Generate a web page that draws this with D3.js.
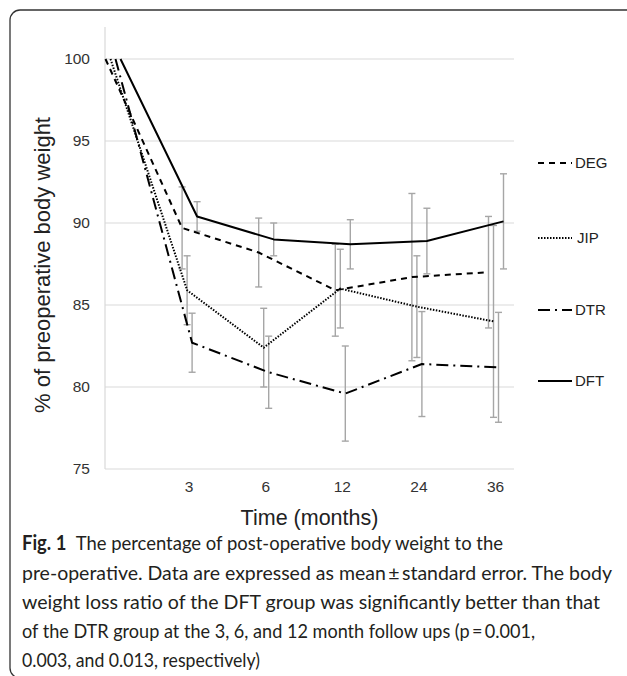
<!DOCTYPE html>
<html>
<head>
<meta charset="utf-8">
<script src="https://cdn.jsdelivr.net/npm/d3@7/dist/d3.min.js"></script>
<style>
  html, body { margin: 0; padding: 0; background: #fff; }
  svg { display: block; }
</style>
</head>
<body>
<svg id="chart" width="627" height="676"></svg>
<script>
// ---- data ----
const categories = ["0", "3", "6", "12", "24", "36"];
const tickLabels = ["", "3", "6", "12", "24", "36"];
const yTicks = [75, 80, 85, 90, 95, 100];
const seriesNames = ["DEG", "JIP", "DTR", "DFT"];
const degValues = [100, 89.7, 88.2, 85.9, 86.7, 87.0];
const degErrors = [null, 2.5, 2.1, 2.8, 5.1, 3.4];
const jipValues = [100, 85.9, 82.4, 86.0, 84.9, 84.0];
const jipErrors = [null, 2.1, 2.4, 2.4, 3.1, 5.85];
const dtrValues = [100, 82.7, 80.9, 79.6, 81.4, 81.2];
const dtrErrors = [null, 1.8, 2.2, 2.9, 3.2, 3.35];
const dftValues = [100, 90.4, 89.0, 88.7, 88.9, 90.1];
const dftErrors = [null, 0.9, 1.0, 1.5, 2.0, 2.9];
const captionLines = [
  ["Fig. 1", "\u2002The percentage of post-operative body weight to the"],
  ["", "pre-operative. Data are expressed as mean\u2009\u00B1\u2009standard error. The body"],
  ["", "weight loss ratio of the DFT group was significantly better than that"],
  ["", "of the DTR group at the 3, 6, and 12 month follow ups (p\u2009=\u20090.001,"],
  ["", "0.003, and 0.013, respectively)"]
];

// ---- styles ----
const seriesStyle = {
  DEG: { dash: "6,5", offset: -7.5 },
  JIP: { dash: "1.5,1.5", offset: -2.5 },
  DTR: { dash: "12,5,2,5", offset: 2.5 },
  DFT: { dash: null, offset: 7.5 }
};
const series = [
  { name: "DEG", values: degValues, errors: degErrors },
  { name: "JIP", values: jipValues, errors: jipErrors },
  { name: "DTR", values: dtrValues, errors: dtrErrors },
  { name: "DFT", values: dftValues, errors: dftErrors }
];

const svg = d3.select("#chart");
const plotLeft = 105, plotRight = 514, plotTop = 59, plotBottom = 469;

const x = d3.scalePoint().domain(categories).range([113, 496]);
const y = d3.scaleLinear().domain([75, 100]).range([plotBottom, plotTop]);

// frame
svg.append("path")
  .attr("d", "M627,10 H20 A10,10 0 0 0 10,20 V668 A10,10 0 0 0 20,678")
  .attr("fill", "none").attr("stroke", "#333").attr("stroke-width", 1.3);

// gridlines
svg.append("g").selectAll("line").data(yTicks).join("line")
  .attr("x1", plotLeft).attr("x2", plotRight)
  .attr("y1", d => y(d)).attr("y2", d => y(d))
  .attr("stroke", "#d9d9d9").attr("stroke-width", 1.2);
// y axis line
svg.append("line")
  .attr("x1", plotLeft).attr("x2", plotLeft)
  .attr("y1", 27).attr("y2", plotBottom)
  .attr("stroke", "#d9d9d9").attr("stroke-width", 1.2);

// y tick labels
const yAxis = d3.axisLeft(y).tickValues(yTicks).tickSize(0).tickPadding(15);
const yg = svg.append("g").attr("transform", `translate(${plotLeft},0)`).call(yAxis);
yg.select(".domain").remove();
yg.selectAll("text").attr("font-family", "Liberation Sans, Arial, sans-serif")
  .attr("font-size", 15.5).attr("fill", "#333");

// x tick labels
const xAxis = d3.axisBottom(x).tickFormat((d, i) => tickLabels[i]).tickSize(0).tickPadding(12);
const xg = svg.append("g").attr("transform", `translate(-1,${plotBottom})`).call(xAxis);
xg.select(".domain").remove();
xg.selectAll("text").attr("font-family", "Liberation Sans, Arial, sans-serif")
  .attr("font-size", 15.5).attr("fill", "#333");

// axis titles
svg.append("text")
  .attr("transform", `translate(50,${(plotTop + plotBottom) / 2 + 1}) rotate(-90)`)
  .attr("text-anchor", "middle")
  .attr("font-family", "Liberation Sans, Arial, sans-serif")
  .attr("font-size", 22).attr("fill", "#222")
  .text("% of preoperative body weight");
svg.append("text")
  .attr("x", (plotLeft + plotRight) / 2).attr("y", 525)
  .attr("text-anchor", "middle")
  .attr("font-family", "Liberation Sans, Arial, sans-serif")
  .attr("font-size", 21.5).attr("fill", "#222")
  .text("Time (months)");

// error bars
const capHalf = 3.5;
series.forEach(s => {
  const off = seriesStyle[s.name].offset;
  const pts = s.values.map((v, i) => ({ c: categories[i], v, e: s.errors[i] })).filter(d => d.e != null);
  const g = svg.append("g").attr("stroke", "#a6a6a6").attr("stroke-width", 1.4);
  g.selectAll("line.v").data(pts).join("line").attr("class", "v")
    .attr("x1", d => x(d.c) + off).attr("x2", d => x(d.c) + off)
    .attr("y1", d => y(d.v + d.e)).attr("y2", d => y(d.v - d.e));
  g.selectAll("line.t").data(pts).join("line").attr("class", "t")
    .attr("x1", d => x(d.c) + off - capHalf).attr("x2", d => x(d.c) + off + capHalf)
    .attr("y1", d => y(d.v + d.e)).attr("y2", d => y(d.v + d.e));
  g.selectAll("line.b").data(pts).join("line").attr("class", "b")
    .attr("x1", d => x(d.c) + off - capHalf).attr("x2", d => x(d.c) + off + capHalf)
    .attr("y1", d => y(d.v - d.e)).attr("y2", d => y(d.v - d.e));
});

// lines
series.forEach(s => {
  const st = seriesStyle[s.name];
  const line = d3.line().x((d, i) => x(categories[i]) + st.offset).y(d => y(d));
  svg.append("path").datum(s.values)
    .attr("d", line)
    .attr("fill", "none").attr("stroke", "#000").attr("stroke-width", 2)
    .attr("stroke-linejoin", "round")
    .attr("stroke-dasharray", st.dash);
});

// legend
const legendY = { DEG: 163, JIP: 238, DTR: 310, DFT: 381 };
seriesNames.forEach(n => {
  const st = seriesStyle[n];
  svg.append("line")
    .attr("x1", 538).attr("x2", 572)
    .attr("y1", legendY[n]).attr("y2", legendY[n])
    .attr("stroke", "#000").attr("stroke-width", 2)
    .attr("stroke-dasharray", st.dash);
  svg.append("text")
    .attr("x", n === "JIP" ? 577 : 575).attr("y", legendY[n])
    .attr("dy", "0.36em")
    .attr("font-family", "Liberation Sans, Arial, sans-serif")
    .attr("font-size", 15).attr("fill", "#222")
    .text(n);
});

// caption
const capBase = [550, 580, 609, 638, 667];
const capWidths = [481, 590, 578, 513, 238];
captionLines.forEach((ln, i) => {
  const t = svg.append("text")
    .attr("x", 22).attr("y", capBase[i])
    .attr("font-family", "Lato, Open Sans, sans-serif")
    .attr("font-size", 20).attr("fill", "#231f20")
    .attr("textLength", capWidths[i]).attr("lengthAdjust", "spacingAndGlyphs");
  if (ln[0]) t.append("tspan").attr("font-weight", "bold").text(ln[0]);
  t.append("tspan").text(ln[1]);
});
</script>
</body>
</html>
